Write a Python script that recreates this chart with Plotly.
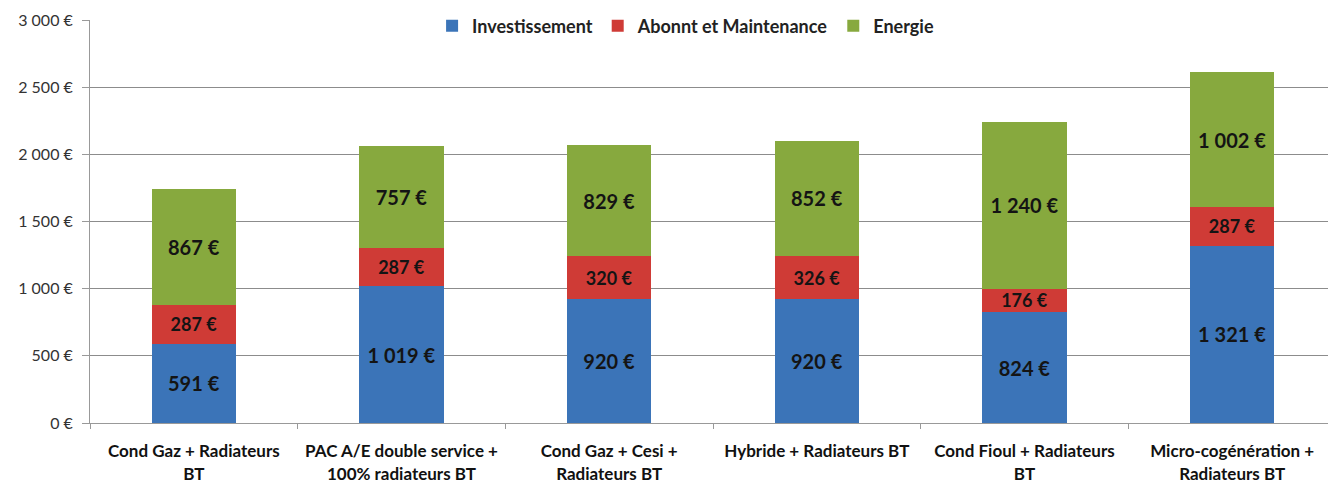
import plotly.graph_objects as go

categories = [
    "Cond Gaz + Radiateurs<br>BT",
    "PAC A/E double service +<br>100% radiateurs BT",
    "Cond Gaz + Cesi +<br>Radiateurs BT",
    "Hybride + Radiateurs BT",
    "Cond Fioul + Radiateurs<br>BT",
    "Micro-cogénération +<br>Radiateurs BT",
]
investissement = [591, 1019, 920, 920, 824, 1321]
abonnement = [287, 287, 320, 326, 176, 287]
energie = [867, 757, 829, 852, 1240, 1002]

y_ticks = [0, 500, 1000, 1500, 2000, 2500, 3000]


def fmt(v):
    return f"{v:,}".replace(",", " ") + " €"


FONT = "Lato, 'Open Sans', sans-serif"

series = [
    ("Investissement", investissement, "#3b74b8", 20),
    ("Abonnt et Maintenance", abonnement, "#cf3b36", 18),
    ("Energie", energie, "#87a93e", 20),
]

fig = go.Figure()
for name, vals, color, fs in series:
    fig.add_trace(go.Bar(
        name=name, x=categories, y=vals,
        marker=dict(color=color, line=dict(width=0)),
        text=[fmt(v) for v in vals],
        textposition="inside", insidetextanchor="middle",
        textfont=dict(family=FONT, size=fs, color="#141414", weight="bold"),
        constraintext="none",
    ))

# The page body has an 8px margin, so the figure is 8px smaller each way.
fig.update_layout(
    barmode="stack",
    bargap=0.595,
    width=1328, height=474,
    margin=dict(l=82, r=0, t=12, b=59, autoexpand=False),
    plot_bgcolor="white", paper_bgcolor="white",
    font=dict(family=FONT, color="#333"),
    showlegend=True,
    legend=dict(
        orientation="h", x=0.478, xanchor="center", y=0.985, yanchor="middle",
        font=dict(family=FONT, size=18, color="#222", weight="bold"),
        bgcolor="rgba(0,0,0,0)", traceorder="normal",
        itemwidth=30, tracegroupgap=0,
    ),
    xaxis=dict(
        showline=True, linecolor="#999", linewidth=1,
        ticks="outside", tickson="boundaries", ticklen=5, tickcolor="#999",
        ticklabelstandoff=13,
        tickfont=dict(family=FONT, size=17, color="#111", weight="bold"),
        showgrid=False, automargin=False,
    ),
    yaxis=dict(
        range=[0, 3000], tickvals=y_ticks, ticktext=[fmt(v) for v in y_ticks],
        showgrid=True, gridcolor="#8c8c8c", gridwidth=1,
        showline=True, linecolor="#999", linewidth=1,
        ticks="outside", ticklen=7, tickcolor="#999",
        ticklabelstandoff=6,
        tickfont=dict(family=FONT, size=16, color="#333"),
        zeroline=False, automargin=False,
    ),
)

fig.write_html("out.html")
